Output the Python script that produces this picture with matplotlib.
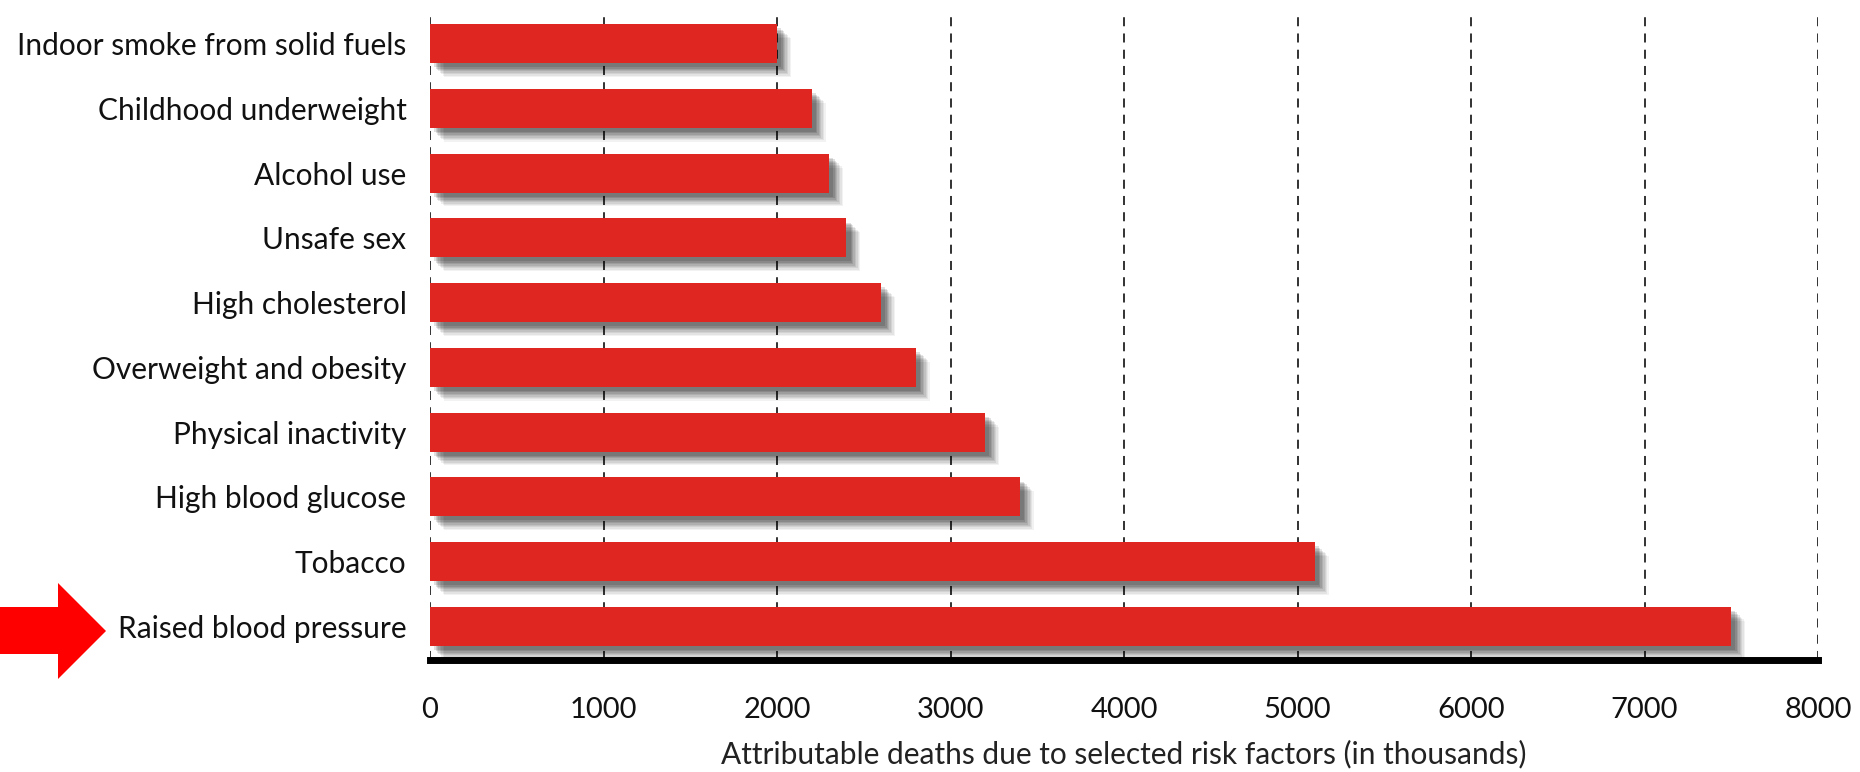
import matplotlib
matplotlib.use("Agg")
import matplotlib.pyplot as plt
import matplotlib.patheffects as pe
from matplotlib.patches import Polygon

categories = ["Raised blood pressure", "Tobacco", "High blood glucose",
              "Physical inactivity", "Overweight and obesity", "High cholesterol",
              "Unsafe sex", "Alcohol use", "Childhood underweight",
              "Indoor smoke from solid fuels"]
values = [7500, 5100, 3400, 3200, 2800, 2600, 2400, 2300, 2200, 2000]
xticks = [0, 1000, 2000, 3000, 4000, 5000, 6000, 7000, 8000]
xlabel = "Attributable deaths due to selected risk factors (in thousands)"

plt.rcParams['font.family'] = ['Lato', 'DejaVu Sans']

fig = plt.figure(figsize=(18.6, 7.72), dpi=100)
ax = fig.add_axes([430/1860, 112/772, 1388/1860, 650/772])

shadow = []
for off, a in [((10, -10), 0.05), ((9, -9), 0.06), ((8, -8), 0.07), ((7, -7), 0.08),
               ((6, -6), 0.09), ((5, -5), 0.10), ((4, -4), 0.12), ((3, -3), 0.12)]:
    shadow.append(pe.SimplePatchShadow(offset=off, shadow_rgbFace='black', alpha=a))
shadow.append(pe.Normal())

ypos = list(range(len(categories)))
bars = ax.barh(ypos, values, height=0.6, color='#e02620', zorder=3)
for b in bars:
    b.set_path_effects(shadow)

ax.set_xlim(0, 8000)
ax.set_ylim(-0.52, len(categories) - 0.48)
ax.set_xticks(xticks)
ax.set_xticklabels([str(t) for t in xticks])
ax.set_yticks(ypos)
ax.set_yticklabels(categories)
ax.tick_params(axis='both', length=0, labelsize=21, colors='#111111')
ax.tick_params(axis='y', pad=17, labelsize=21.5)
ax.tick_params(axis='x', pad=27)

ax.xaxis.grid(True, linestyle=(0, (5, 4)), color='#222222', linewidth=1.3, zorder=0)
ax.set_axisbelow(True)
for s in ['top', 'right', 'left']:
    ax.spines[s].set_visible(False)
ax.spines['bottom'].set_linewidth(5)
ax.spines['bottom'].set_color('black')

ax.set_xlabel(xlabel, fontsize=21.5, color='#222222', labelpad=12)

# red block arrow pointing to the first category
W, H = 1860, 772
pts = [(0, 607), (58, 607), (58, 583), (106, 631), (58, 679), (58, 654), (0, 654)]
arrow = Polygon([(x / W, 1 - y / H) for x, y in pts], closed=True,
                transform=fig.transFigure, facecolor='#ff0000', edgecolor='none')
fig.patches.append(arrow)

fig.savefig("out.png", dpi=100)
